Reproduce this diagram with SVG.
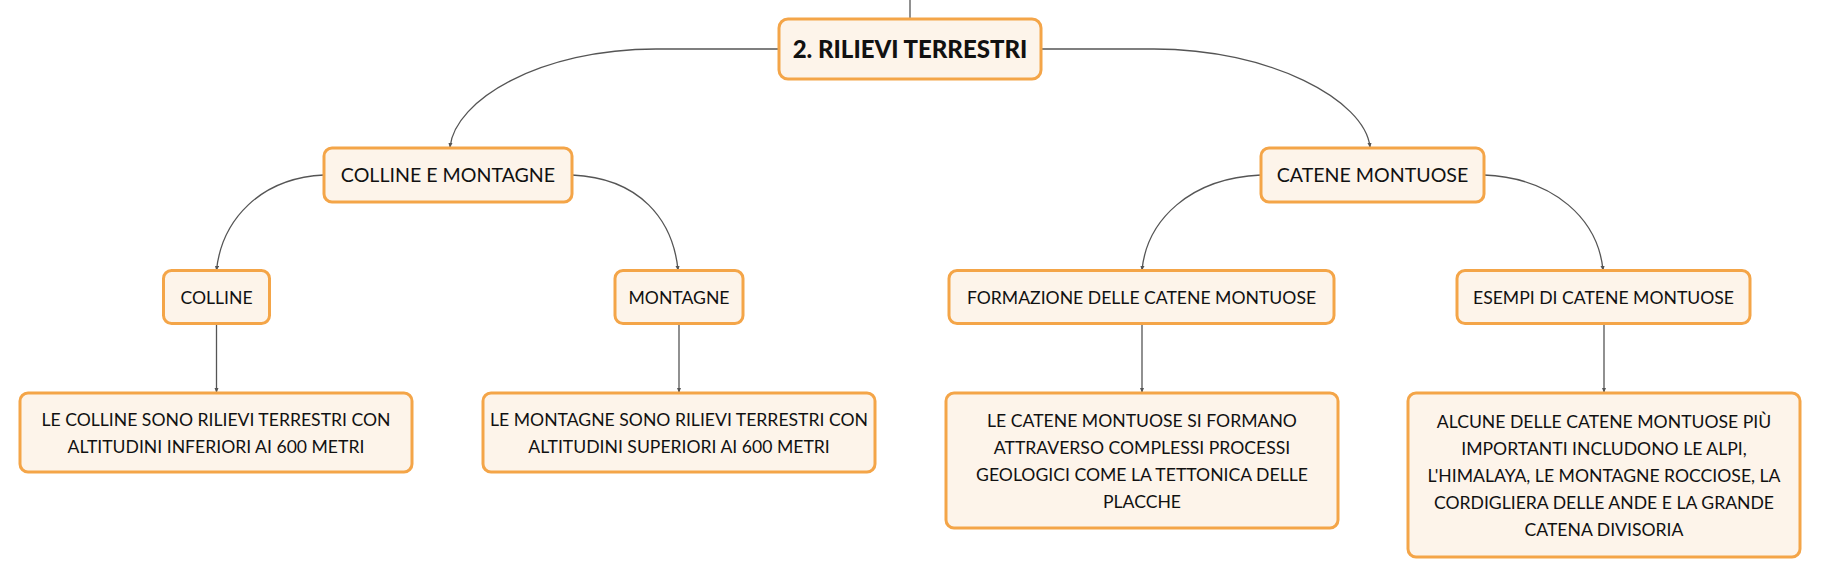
<svg xmlns="http://www.w3.org/2000/svg" width="1821" height="577" viewBox="0 0 1821 577">
<style>
.box{fill:#fdf4ea;stroke:#f4a548;stroke-width:3}
.t{font-family:Lato,"Open Sans","DejaVu Sans",sans-serif;font-size:17.6px;fill:#111;text-anchor:middle}
.m{font-size:19.6px}
.r{font-size:24px;font-weight:900}
.c{fill:none;stroke:#555;stroke-width:1.3}
</style>
<defs>
<marker id="ah" viewBox="0 0 6 6" refX="5" refY="3" markerWidth="5" markerHeight="5" orient="auto" markerUnits="userSpaceOnUse">
<path d="M0,0.5 L6,3 L0,5.5 Z" fill="#555"/>
</marker>
</defs>
<rect width="1821" height="577" fill="#fff"/>
<g id="connectors">
<path class="c" d="M910,0 L910,19"/>
<path class="c" marker-end="url(#ah)" d="M779,49 H656 C540,49 455,100 450,147"/>
<path class="c" marker-end="url(#ah)" d="M1041,49 H1154 C1270,49 1365,100 1370,147"/>
<path class="c" marker-end="url(#ah)" d="M324,175 C260,178 222,220 216.5,270"/>
<path class="c" marker-end="url(#ah)" d="M572,175 C640,178 673,220 678,270"/>
<path class="c" marker-end="url(#ah)" d="M1261,175 C1190,178 1147,220 1142,270"/>
<path class="c" marker-end="url(#ah)" d="M1484,175 C1555,178 1598,220 1603,270"/>
<path class="c" marker-end="url(#ah)" d="M216.5,324 V392"/>
<path class="c" marker-end="url(#ah)" d="M679,324 V392"/>
<path class="c" marker-end="url(#ah)" d="M1142,324 V392"/>
<path class="c" marker-end="url(#ah)" d="M1604,324 V392"/>
</g>
<g id="root">
<rect class="box" x="779" y="19" width="262" height="60" rx="9"/>
<text class="t r" x="910" y="57.5">2. RILIEVI TERRESTRI</text>
</g>
<g id="colline-montagne">
<rect class="box" x="324" y="148" width="248" height="54" rx="8"/>
<text class="t m" x="448" y="182">COLLINE E MONTAGNE</text>
</g>
<g id="catene-montuose">
<rect class="box" x="1261" y="148" width="223" height="54" rx="8"/>
<text class="t m" x="1372.5" y="182">CATENE MONTUOSE</text>
</g>
<g id="colline">
<rect class="box" x="163.5" y="270.5" width="106" height="53" rx="8"/>
<text class="t" x="216.5" y="303.5">COLLINE</text>
</g>
<g id="montagne">
<rect class="box" x="615" y="270.5" width="128" height="53" rx="8"/>
<text class="t" x="679" y="303.5">MONTAGNE</text>
</g>
<g id="formazione">
<rect class="box" x="949" y="270.5" width="385" height="53" rx="8"/>
<text class="t" x="1141.5" y="303.5">FORMAZIONE DELLE CATENE MONTUOSE</text>
</g>
<g id="esempi">
<rect class="box" x="1457" y="270.5" width="293" height="53" rx="8"/>
<text class="t" x="1603.5" y="303.5">ESEMPI DI CATENE MONTUOSE</text>
</g>
<g id="leaf-colline">
<rect class="box" x="20" y="393" width="392" height="79" rx="8"/>
<text class="t" x="216" y="425.5">LE COLLINE SONO RILIEVI TERRESTRI CON</text>
<text class="t" x="216" y="452.5">ALTITUDINI INFERIORI AI 600 METRI</text>
</g>
<g id="leaf-montagne">
<rect class="box" x="483" y="393" width="392" height="79" rx="8"/>
<text class="t" x="679" y="425.5">LE MONTAGNE SONO RILIEVI TERRESTRI CON</text>
<text class="t" x="679" y="452.5">ALTITUDINI SUPERIORI AI 600 METRI</text>
</g>
<g id="leaf-formazione">
<rect class="box" x="946" y="393" width="392" height="135" rx="8"/>
<text class="t" x="1142" y="426.5">LE CATENE MONTUOSE SI FORMANO</text>
<text class="t" x="1142" y="453.5">ATTRAVERSO COMPLESSI PROCESSI</text>
<text class="t" x="1142" y="480.5">GEOLOGICI COME LA TETTONICA DELLE</text>
<text class="t" x="1142" y="507.5">PLACCHE</text>
</g>
<g id="leaf-esempi">
<rect class="box" x="1408" y="393" width="392" height="164" rx="8"/>
<text class="t" x="1604" y="427.5">ALCUNE DELLE CATENE MONTUOSE PIÙ</text>
<text class="t" x="1604" y="454.5">IMPORTANTI INCLUDONO LE ALPI,</text>
<text class="t" x="1604" y="481.5">L'HIMALAYA, LE MONTAGNE ROCCIOSE, LA</text>
<text class="t" x="1604" y="508.5">CORDIGLIERA DELLE ANDE E LA GRANDE</text>
<text class="t" x="1604" y="535.5">CATENA DIVISORIA</text>
</g>
</svg>
